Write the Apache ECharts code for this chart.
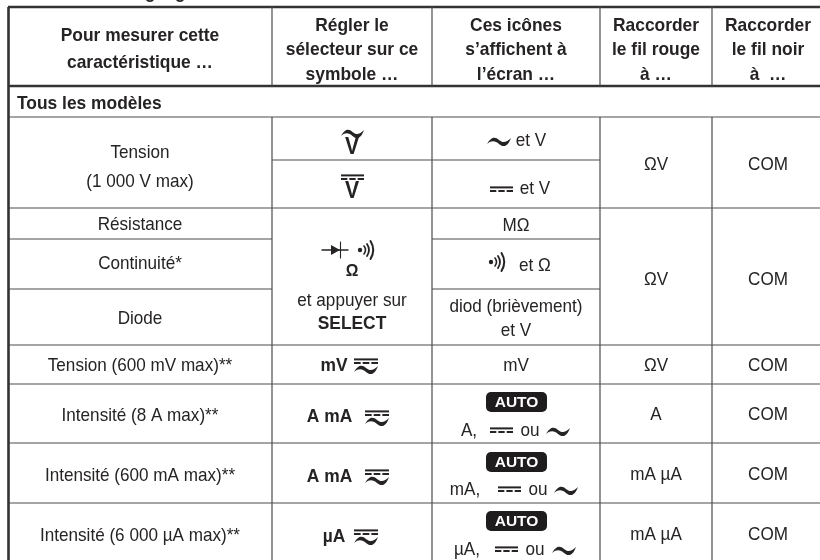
<!DOCTYPE html>
<html><head><meta charset="utf-8">
<style>html,body{margin:0;padding:0;background:#fff}#c{width:820px;height:560px}</style>
<script src="https://cdn.jsdelivr.net/npm/echarts@6/dist/echarts.min.js"></script>
</head><body><div id="c"></div>
<script>
// Table content
var headers = [
  ["Pour mesurer cette","caractéristique …"],
  ["Régler le","sélecteur sur ce","symbole …"],
  ["Ces icônes","s’affichent à","l’écran …"],
  ["Raccorder","le fil rouge","à …"],
  ["Raccorder","le fil noir","à  …"]
];
var sectionTitle = "Tous les modèles";
var col1Labels = ["Tension","(1 000 V max)","Résistance","Continuité*","Diode","Tension (600 mV max)**","Intensité (8 A max)**","Intensité (600 mA max)**","Intensité (6 000 µA max)**"];
var col1Rows = [152,181,224,263,318,365,415,475,535];
var redLabels = ["ΩV","ΩV","ΩV","A","mA µA","mA µA"];
var redRows = [164,279,365,414,474,534];
var blackLabels = ["COM","COM","COM","COM","COM","COM"];
// Grid layout
var colCentres = [140,352,516,656,768];
var thick = [[8,820,7],[8,820,86]];
var rules = [[8,820,117],[272,600,160],[8,820,208],[8,272,239],[432,600,239],[8,272,289],[432,600,289],[8,820,345],[8,820,384],[8,820,443],[8,820,503]];
var verticals = [[272,7,86],[432,7,86],[600,7,86],[712,7,86],[272,117,560],[432,117,560],[600,117,560],[712,117,560]];

var FONT = '"Liberation Sans",Arial,sans-serif';
var INK = '#262324', RULE = '#4d4d4d';

var chart = echarts.init(document.getElementById('c'), null, {renderer:'canvas'});

function pathLine(d, w){ return {type:'path', shape:{pathData:d}, style:{fill:'none', stroke:INK, lineWidth:w, lineCap:'round'}}; }
function wave(x,y,w){
  function px(f){return x+f*w;}
  var d='M'+x+' '+(y+3)
    +'C'+px(.2)+' '+(y-5)+' '+px(.35)+' '+(y-4)+' '+px(.5)+' '+(y-1)
    +'C'+px(.65)+' '+(y+2)+' '+px(.8)+' '+(y+2)+' '+px(1)+' '+(y-3)
    +'C'+px(.85)+' '+(y+7)+' '+px(.65)+' '+(y+6)+' '+px(.5)+' '+(y+3)
    +'C'+px(.35)+' '+y+' '+px(.2)+' '+(y-1)+' '+x+' '+(y+3)+'Z';
  return {type:'path',shape:{pathData:d},style:{fill:INK}};
}
function dc(x,y,w){
  var d=(w-4)/3, out=[{type:'rect',shape:{x:x,y:y-2.6,width:w,height:2},style:{fill:INK}}];
  for(var i=0;i<3;i++) out.push({type:'rect',shape:{x:x+i*(d+2),y:y+1,width:d,height:2},style:{fill:INK}});
  return out;
}
function sound(x,y){
  return [{type:'circle',shape:{cx:x,cy:y,r:2.2},style:{fill:INK}},
    pathLine('M'+(x+4)+' '+(y-4)+'Q'+(x+7)+' '+y+' '+(x+4)+' '+(y+4),1.6),
    pathLine('M'+(x+7)+' '+(y-6)+'Q'+(x+11)+' '+y+' '+(x+7)+' '+(y+6),1.8),
    pathLine('M'+(x+10.5)+' '+(y-9)+'Q'+(x+16)+' '+y+' '+(x+10.5)+' '+(y+9),2)];
}
function diode(x,y){
  return [pathLine('M'+x+' '+y+'H'+(x+26),1.3),
    {type:'path',shape:{pathData:'M'+(x+9)+' '+(y-5)+'L'+(x+18)+' '+y+'L'+(x+9)+' '+(y+5)+'Z'},style:{fill:INK}},
    pathLine('M'+(x+18.5)+' '+(y-8)+'V'+(y+8),1.1)];
}
function acdc(x,y,w){
  return dc(x,y-5,w).concat([wave(x,y+3,w)]);
}
function txt(x,y,s,opt){
  opt=opt||{};
  return {type:'text',x:x,y:y+.8,scaleX:opt.sx||(opt.bold?.94:.9),style:{text:s,fill:opt.fill||INK,font:(opt.bold?'bold 18.5':(opt.size||19))+'px '+FONT,align:opt.align||'center',verticalAlign:'middle'}};
}
function txtB(x,y,s,size,sx){
  return {type:'text',x:x,y:y,scaleX:sx,style:{text:s,fill:INK,font:'bold '+size+'px '+FONT,align:'center',verticalAlign:'middle'}};
}
function auto(cx,y){
  return [{type:'rect',shape:{x:cx-30.5,y:y-10,width:61,height:20,r:5},style:{fill:'#1f1c1d'}},
    {type:'text',x:cx,y:y+.5,style:{text:'AUTO',fill:'#fff',font:'bold 15.5px "Liberation Sans",sans-serif',align:'center',verticalAlign:'middle'}}];
}

function buildMarks(){
  var m=[];
  // descenders of the cropped line above the table
  m.push(txt(150,-8,'g',{bold:true})); m.push(txt(180,-8,'g',{bold:true}));
  headers.forEach(function(lines,c){
    var ys = lines.length===2?[35,62]:[25,49,74];
    lines.forEach(function(s,i){ m.push(txt(colCentres[c],ys[i],s,{bold:true})); });
  });
  m.push(txt(17,103,sectionTitle,{bold:true,align:'left'}));
  col1Labels.forEach(function(s,i){ m.push(txt(colCentres[0],col1Rows[i],s)); });
  redLabels.forEach(function(s,i){ m.push(txt(colCentres[3],redRows[i],s)); m.push(txt(colCentres[4],redRows[i],blackLabels[i])); });
  // selector column
  m.push(wave(341,133,23));
  m.push(txtB(352,148,'V',23,.92));
  m=m.concat(dc(341,177,23));
  m.push(txtB(352,192,'V',23,.92));
  m=m.concat(diode(322,250)); m=m.concat(sound(360,250));
  m.push(txtB(352,271,'Ω',17,.93));
  m.push(txt(352,300,'et appuyer sur'));
  m.push(txt(352,323,'SELECT',{bold:true}));
  m.push(txt(334,365,'mV',{bold:true})); m=m.concat(acdc(354,366,24));
  m.push(txt(329.5,416,'A mA',{bold:true})); m=m.concat(acdc(365,418,24));
  m.push(txt(329.5,476,'A mA',{bold:true})); m=m.concat(acdc(365,477,24));
  m.push(txt(334,536,'µA',{bold:true})); m=m.concat(acdc(354,537,24));
  // display column
  m.push(wave(487,141,24)); m.push(txt(531,140,'et V'));
  m=m.concat(dc(490,189,23)); m.push(txt(535,188,'et V'));
  m.push(txt(516,225,'MΩ'));
  m=m.concat(sound(491,262)); m.push(txt(535,265,'et Ω'));
  m.push(txt(516,306,'diod (brièvement)')); m.push(txt(516,330,'et V'));
  m.push(txt(516,365,'mV'));
  m=m.concat(auto(516.5,402)); m.push(txt(469,430,'A,')); m=m.concat(dc(490,430,23)); m.push(txt(530,430,'ou')); m.push(wave(546,431,24));
  m=m.concat(auto(516.5,462)); m.push(txt(465,489,'mA,')); m=m.concat(dc(498,489,23)); m.push(txt(538,489,'ou')); m.push(wave(554,490,24));
  m=m.concat(auto(516.5,521)); m.push(txt(467,549,'µA,')); m=m.concat(dc(495,549,23)); m.push(txt(535,549,'ou')); m.push(wave(552,550,24));
  return m;
}

var lineData = thick.map(function(l){return [l[0],l[2],l[1],l[2],2.4];})
  .concat(rules.map(function(l){return [l[0],l[2],l[1],l[2],1.2];}))
  .concat(verticals.map(function(l){return [l[0],l[1],l[0],l[2],1.2];}))
  .concat([[8.5,7,8.5,560,2.6]]);

chart.setOption({
  animation:false,
  backgroundColor:'#fff',
  grid:{left:0,right:0,top:0,bottom:0},
  xAxis:{type:'value',min:0,max:820,show:false},
  yAxis:{type:'value',min:0,max:560,inverse:true,show:false},
  series:[
    {type:'custom',silent:true,coordinateSystem:'cartesian2d',data:lineData,encode:{x:[0,2],y:[1,3]},
      renderItem:function(p,api){
        var a=api.coord([api.value(0),api.value(1)]),b=api.coord([api.value(2),api.value(3)]);
        return {type:'line',shape:{x1:a[0],y1:a[1],x2:b[0],y2:b[1]},style:{stroke:api.value(4)>2?'#333':RULE,lineWidth:api.value(4)}};
      }},
    {type:'custom',silent:true,coordinateSystem:'cartesian2d',data:[[0,0]],
      renderItem:function(){ return {type:'group',children:buildMarks()}; }}
  ]
});
</script></body></html>
